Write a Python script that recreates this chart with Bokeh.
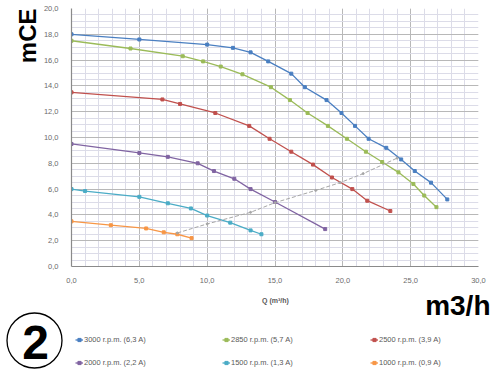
from bokeh.plotting import figure
from bokeh.models import (Range1d, SingleIntervalTicker, CustomJSTickFormatter,
                          Legend, LegendItem, Title)
from bokeh.layouts import column, row
from bokeh.core.properties import value
from bokeh.embed import file_html
from bokeh.resources import INLINE

# ---- data ----
q3000 = [0, 5, 10, 11.9, 13.2, 14.5, 16.2, 17.2, 18.8, 19.9, 20.9, 21.9, 23.2, 24.3, 25.3, 26.5, 27.7]
h3000 = [18.0, 17.6, 17.2, 16.95, 16.6, 15.9, 14.95, 13.9, 12.9, 11.9, 10.9, 9.9, 9.2, 8.3, 7.4, 6.5, 5.2]

q2850 = [0, 4.35, 8.2, 9.7, 11.0, 12.6, 14.7, 16.1, 17.4, 18.9, 20.3, 21.7, 22.9, 24.1, 25.2, 26.0, 26.9]
h2850 = [17.5, 16.9, 16.3, 15.9, 15.5, 14.9, 13.9, 12.9, 11.9, 10.9, 9.9, 8.9, 8.1, 7.3, 6.4, 5.5, 4.6]

q2500 = [0, 6.7, 8.0, 10.6, 13.1, 14.6, 16.2, 17.8, 19.2, 20.7, 21.8, 23.5]
h2500 = [13.5, 12.95, 12.6, 11.9, 10.9, 9.9, 8.9, 7.9, 6.9, 6.0, 5.1, 4.3]

q2000 = [0, 5.0, 7.1, 9.3, 10.5, 12.0, 13.2, 15.0, 18.7]
h2000 = [9.5, 8.8, 8.5, 8.0, 7.4, 6.8, 6.0, 5.0, 2.9]

q1500 = [0, 1.0, 5.0, 7.1, 8.8, 10.0, 11.7, 13.2, 14.0]
h1500 = [6.0, 5.85, 5.4, 4.9, 4.5, 3.95, 3.4, 2.8, 2.5]

q1000 = [0, 2.9, 5.5, 6.8, 7.8, 8.85]
h1000 = [3.5, 3.2, 2.95, 2.65, 2.5, 2.2]

q_sys = [7.8, 10.0, 13.2, 15.0, 18.0, 19.8, 21.5, 24.0]
h_sys = [2.6, 3.3, 4.2, 4.95, 5.9, 6.5, 7.2, 8.4]

labels = ["3000 r.p.m. (6,3 A)", "2850 r.p.m. (5,7 A)", "2500 r.p.m. (3,9 A)",
          "2000 r.p.m. (2,2 A)", "1500 r.p.m. (1,3 A)", "1000 r.p.m. (0,9 A)"]
colors = ["#4a7fc1", "#9bbb59", "#c0504d", "#8064a2", "#4bacc6", "#f79646"]
series = [(q3000, h3000), (q2850, h2850), (q2500, h2500),
          (q2000, h2000), (q1500, h1500), (q1000, h1000)]

FONT = "Liberation Sans"

# ---------------- main chart ----------------
p = figure(width=500, height=288, output_backend="svg", toolbar_location=None,
           x_range=Range1d(0, 30), y_range=Range1d(0, 20),
           min_border_left=71, min_border_right=22, min_border_top=8, min_border_bottom=22)
p.outline_line_color = None

fmt = CustomJSTickFormatter(code="return tick.toFixed(1).replace('.', ',');")
p.xaxis.ticker = SingleIntervalTicker(interval=5, num_minor_ticks=5)
p.yaxis.ticker = SingleIntervalTicker(interval=2, num_minor_ticks=4)
for ax in (p.xaxis[0], p.yaxis[0]):
    ax.formatter = fmt
    ax.major_label_text_font = FONT
    ax.major_label_text_font_size = "7.5px"
    ax.major_label_text_color = "#6b6b6b"
    ax.axis_line_color = "#8a8a8a"
    ax.axis_line_width = 1.2
    ax.major_tick_line_color = None
    ax.minor_tick_line_color = None
p.yaxis.major_label_standoff = 7
p.xaxis.major_label_standoff = 5

p.xgrid.grid_line_color = "#b8b8b8"
p.ygrid.grid_line_color = "#b8b8b8"
p.xgrid.minor_grid_line_color = "#dcdce8"
p.ygrid.minor_grid_line_color = "#dcdce8"

for (xs, ys), c in zip(series, colors):
    p.line(xs, ys, line_color=c, line_width=1.3)
    p.scatter(xs, ys, size=3, marker="square", fill_color=c, line_color=c)

p.line(q_sys, h_sys, line_color="#a6a6a6", line_width=1, line_dash="4 2")
p.scatter(q_sys, h_sys, size=2, fill_color="#a6a6a6", line_color="#a6a6a6")

p.add_layout(Title(text="mCE", align="right", text_font=FONT, text_font_style="bold",
                   text_font_size="24px", text_color="black", standoff=0), "left")

# ---------------- bottom band (page pixel coordinates) ----------------
p2 = figure(width=500, height=84, output_backend="svg", toolbar_location=None,
            x_range=Range1d(0, 500), y_range=Range1d(372, 288),
            x_axis_location=None, y_axis_location=None,
            min_border=0, min_border_left=0, min_border_right=0,
            min_border_top=0, min_border_bottom=0)
p2.outline_line_color = None
p2.xgrid.visible = False
p2.ygrid.visible = False

p2.text(x=[275], y=[300], text=["Q (m³/h)"], text_align="center", text_baseline="middle",
        text_font=value(FONT), text_font_size="7px", text_font_style="bold",
        text_color="#595959")
p2.text(x=[490], y=[305], text=["m3/h"], text_align="right", text_baseline="middle",
        text_font=value(FONT), text_font_size="28px", text_font_style="bold",
        text_color="black")
p2.scatter(x=[34], y=[340], size=55, marker="circle", fill_alpha=0,
           line_color="black", line_width=1.3)
p2.text(x=[35], y=[342], text=["2"], text_align="center", text_baseline="middle",
        text_font=value(FONT), text_font_size="48px", text_font_style="bold",
        text_color="black")

items = []
for c, lab in zip(colors, labels):
    r1 = p2.line(x=[-50, -40], y=[-50, -50], line_color=c, line_width=1.3)
    r2 = p2.scatter(x=[-50], y=[-50], size=3, marker="square", fill_color=c, line_color=c)
    items.append(LegendItem(label=lab, renderers=[r1, r2]))

col_x = [75, 222, 370]
for k in range(3):
    lg = Legend(items=[items[k], items[k + 3]], location=(col_x[k], 2),
                glyph_width=8, glyph_height=15, label_height=15,
                label_standoff=1, spacing=8, padding=0, margin=0,
                border_line_color=None, background_fill_alpha=0,
                label_text_font=FONT, label_text_font_size="7.5px",
                label_text_color="#595959")
    p2.add_layout(lg, "center")

layout = column(p, row(p2), spacing=0)
open("out.html", "w").write(file_html(layout, INLINE))
